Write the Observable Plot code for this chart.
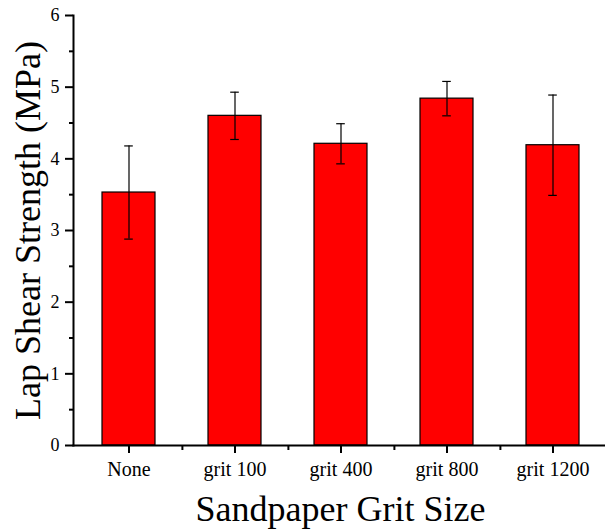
<!DOCTYPE html>
<html>
<head>
<meta charset="utf-8">
<script src="https://cdn.jsdelivr.net/npm/d3@7"></script>
<script src="https://cdn.jsdelivr.net/npm/@observablehq/plot@0.6"></script>
<style>
  html, body { margin: 0; padding: 0; background: #fff; }
  svg { font-family: "Liberation Serif", "Times New Roman", serif; }
</style>
</head>
<body>
<div id="chart"></div>
<script>
const categories = ["None", "grit 100", "grit 400", "grit 800", "grit 1200"];
const means = [3.53, 4.60, 4.21, 4.84, 4.19];
const errors = [0.65, 0.33, 0.28, 0.24, 0.70];
const yMajorTicks = [0, 1, 2, 3, 4, 5, 6];
const yMinorTicks = [0.5, 1.5, 2.5, 3.5, 4.5, 5.5];
const xTitle = "Sandpaper Grit Size";
const yTitle = "Lap Shear Strength (MPa)";

const data = categories.map((c, i) => ({cat: c, mean: means[i], lo: means[i] - errors[i], hi: means[i] + errors[i]}));

const W = 605, H = 531, mL = 73, mR = -2, mT = 15, mB = 86;
const step = (W - mL - mR) / categories.length;
const bw = step * 0.5;
const capW = 9;
const capInset = (bw - capW) / 2;

const chart = Plot.plot({
  width: W,
  height: H,
  marginLeft: mL,
  marginRight: mR,
  marginTop: mT,
  marginBottom: mB,
  style: {fontFamily: '"Liberation Serif", "Times New Roman", serif', background: "#fff", color: "#000", overflow: "visible"},
  x: {domain: categories, paddingInner: 0.5, paddingOuter: 0.25, label: null},
  y: {domain: [0, 6], label: null},
  marks: [
    Plot.barY(data, {x: "cat", y: "mean", fill: "#ff0000", stroke: "#000", strokeWidth: 1.2}),
    Plot.ruleX(data, {x: "cat", y1: "lo", y2: "hi", stroke: "#000", strokeWidth: 1.2}),
    Plot.tickY(data, {x: "cat", y: "hi", stroke: "#000", strokeWidth: 1.2, insetLeft: capInset, insetRight: capInset}),
    Plot.tickY(data, {x: "cat", y: "lo", stroke: "#000", strokeWidth: 1.2, insetLeft: capInset, insetRight: capInset}),
    Plot.axisY({ticks: yMajorTicks, tickSize: 8, tickPadding: 6, fontSize: 18, label: null, stroke: "#000", strokeOpacity: 1, strokeWidth: 2, fill: "#000", tickFormat: d3.format("d")}),
    Plot.axisY({ticks: yMinorTicks, tickSize: 4, label: null, stroke: "#000", strokeOpacity: 1, strokeWidth: 2, tickFormat: () => ""}),
    Plot.axisX({tickSize: 8, tickPadding: 8, fontSize: 20, label: null, stroke: "#000", strokeOpacity: 1, strokeWidth: 2, fill: "#000"}),
    Plot.axisX({ticks: categories.slice(0, 4), tickSize: 5, label: null, stroke: "#000", strokeOpacity: 1, strokeWidth: 2, dx: step / 2, tickFormat: () => ""}),
    Plot.frame({anchor: "left", stroke: "#000", strokeWidth: 2}),
    Plot.frame({anchor: "bottom", stroke: "#000", strokeWidth: 2}),
    Plot.text([yTitle], {frameAnchor: "left", rotate: -90, dx: -45, fontSize: 36, textAnchor: "middle", lineAnchor: "middle", fill: "#000"}),
    Plot.text([xTitle], {frameAnchor: "bottom", dy: 64, fontSize: 36, textAnchor: "middle", lineAnchor: "middle", fill: "#000"})
  ]
});
document.getElementById("chart").appendChild(chart);
</script>
</body>
</html>
